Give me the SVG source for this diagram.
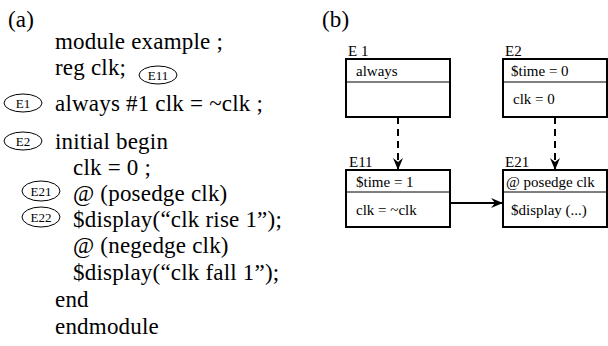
<svg xmlns="http://www.w3.org/2000/svg" width="608" height="346" viewBox="0 0 608 346">
<style>
text{font-family:'Liberation Serif','Times New Roman','DejaVu Serif',serif;fill:#000}
.code{font-size:23px;letter-spacing:0.2px}
.tag{font-size:13px}
.lbl{font-size:15px}
.box{fill:#fff;stroke:#000;stroke-width:2}
.div{stroke:#000;stroke-width:1}
.ell{fill:none;stroke:#000;stroke-width:1}
.dash{stroke:#000;stroke-width:2;stroke-dasharray:7 5;fill:none}
.solid{stroke:#000;stroke-width:2;fill:none}
</style>
<defs>
<marker id="ah" viewBox="0 0 12 10" refX="11" refY="5" markerWidth="12" markerHeight="10" markerUnits="userSpaceOnUse" orient="auto">
<path d="M0,0 L12,5 L0,10 L4,5 Z" fill="#000"/>
</marker>
</defs>
<rect width="608" height="346" fill="#fff"/>
<g id="code">
<text class="code" x="8" y="27">(a)</text>
<text class="code" x="55" y="49">module example ;</text>
<text class="code" x="55" y="75">reg clk;</text>
<text class="code" x="55" y="111">always #1 clk = ~clk ;</text>
<text class="code" x="55" y="149">initial begin</text>
<text class="code" x="73" y="175">clk = 0 ;</text>
<text class="code" x="73" y="201">@ (posedge clk)</text>
<text class="code" x="73" y="227">$display(“clk rise 1”);</text>
<text class="code" x="73" y="253">@ (negedge clk)</text>
<text class="code" x="73" y="280">$display(“clk fall 1”);</text>
<text class="code" x="55" y="307">end</text>
<text class="code" x="55" y="334">endmodule</text>
</g>
<g id="tag-E11"><ellipse class="ell" cx="158" cy="75" rx="19" ry="9"/><text class="tag" x="158" y="79.5" text-anchor="middle">E11</text></g>
<g id="tag-E1"><ellipse class="ell" cx="23" cy="103" rx="19" ry="9"/><text class="tag" x="23" y="107.5" text-anchor="middle">E1</text></g>
<g id="tag-E2"><ellipse class="ell" cx="23" cy="141" rx="19" ry="9"/><text class="tag" x="23" y="145.5" text-anchor="middle">E2</text></g>
<g id="tag-E21"><ellipse class="ell" cx="41" cy="191" rx="19" ry="10"/><text class="tag" x="41" y="195.5" text-anchor="middle">E21</text></g>
<g id="tag-E22"><ellipse class="ell" cx="41" cy="217" rx="19" ry="10"/><text class="tag" x="41" y="221.5" text-anchor="middle">E22</text></g>
<text class="code" x="322" y="27">(b)</text>
<g id="connectors">
<line class="dash" x1="398" y1="117" x2="398" y2="169" marker-end="url(#ah)"/>
<line class="dash" x1="555" y1="117" x2="555" y2="169" marker-end="url(#ah)"/>
<line class="solid" x1="450" y1="203" x2="502" y2="203" marker-end="url(#ah)"/>
</g>
<g id="E1">
<text class="lbl" x="348" y="56">E 1</text>
<rect class="box" x="346" y="59" width="104" height="58"/>
<line class="div" x1="346" y1="82" x2="450" y2="82"/>
<text class="lbl" x="356" y="76">always</text>
</g>
<g id="E2">
<text class="lbl" x="505" y="56">E2</text>
<rect class="box" x="503" y="59" width="104" height="58"/>
<line class="div" x1="503" y1="82" x2="607" y2="82"/>
<text class="lbl" x="511" y="76">$time = 0</text>
<text class="lbl" x="513" y="104">clk = 0</text>
</g>
<g id="E11">
<text class="lbl" x="349" y="167">E11</text>
<rect class="box" x="346" y="170" width="104" height="57"/>
<line class="div" x1="346" y1="192" x2="450" y2="192"/>
<text class="lbl" x="356" y="187">$time = 1</text>
<text class="lbl" x="356" y="215">clk = ~clk</text>
</g>
<g id="E21">
<text class="lbl" x="505" y="167">E21</text>
<rect class="box" x="503" y="170" width="104" height="57"/>
<line class="div" x1="503" y1="192" x2="607" y2="192"/>
<text class="lbl" x="506" y="187">@ posedge clk</text>
<text class="lbl" x="511" y="215">$display (...)</text>
</g>
</svg>
